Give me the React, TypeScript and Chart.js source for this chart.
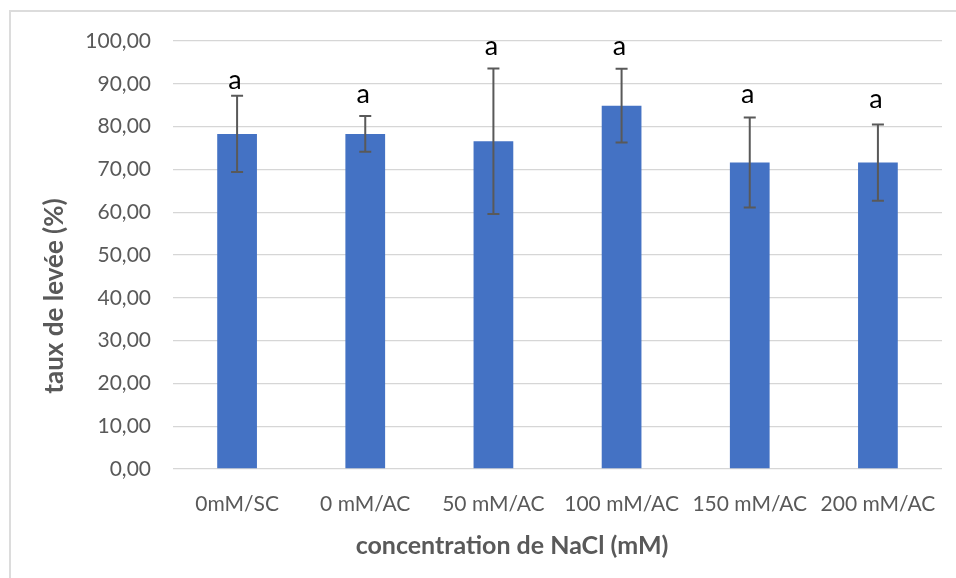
import { useEffect, useRef } from "react";
import { Chart, registerables } from "chart.js";

Chart.register(...registerables);

const categories = ["0mM/SC", "0 mM/AC", "50 mM/AC", "100 mM/AC", "150 mM/AC", "200 mM/AC"];
const means = [78.3, 78.3, 76.6, 84.9, 71.6, 71.6];
const errors = [8.9, 4.2, 17.0, 8.6, 10.5, 8.9];
const groupLetters = ["a", "a", "a", "a", "a", "a"];
const letterValues = [88.9, 85.5, 96.7, 96.7, 85.6, 84.4];
const yTickValues = [0, 10, 20, 30, 40, 50, 60, 70, 80, 90, 100];
const xTitle = "concentration de NaCl (mM)";
const yTitle = "taux de levée (%)";

const FONT = "Lato, 'Open Sans', sans-serif";

const overlayPlugin = {
  id: "overlay",
  afterDatasetsDraw(chart: any) {
    const ctx = chart.ctx as CanvasRenderingContext2D;
    const meta = chart.getDatasetMeta(0);
    const y = chart.scales.y;
    ctx.save();
    // error bars
    ctx.strokeStyle = "#595959";
    ctx.lineWidth = 2;
    meta.data.forEach((bar: any, i: number) => {
      const x = bar.x;
      const top = y.getPixelForValue(means[i] + errors[i]);
      const bot = y.getPixelForValue(means[i] - errors[i]);
      ctx.beginPath();
      ctx.moveTo(x, top);
      ctx.lineTo(x, bot);
      ctx.moveTo(x - 6, top);
      ctx.lineTo(x + 6, top);
      ctx.moveTo(x - 6, bot);
      ctx.lineTo(x + 6, bot);
      ctx.stroke();
    });
    // group letters
    ctx.fillStyle = "#000000";
    ctx.font = `27px ${FONT}`;
    ctx.textAlign = "center";
    ctx.textBaseline = "alphabetic";
    meta.data.forEach((bar: any, i: number) => {
      ctx.fillText(groupLetters[i], bar.x - 2, y.getPixelForValue(letterValues[i]));
    });
    // axis titles
    ctx.fillStyle = "#595959";
    ctx.textBaseline = "middle";
    ctx.font = `bold 25px ${FONT}`;
    ctx.fillText(xTitle, 512, 546);
    ctx.font = `bold 26px ${FONT}`;
    ctx.translate(55, 296);
    ctx.rotate(-Math.PI / 2);
    ctx.fillText(yTitle, 0, 0);
    ctx.restore();
  },
};

export default function App() {
  const ref = useRef<HTMLCanvasElement | null>(null);
  useEffect(() => {
    if (!ref.current) return;
    const chart = new Chart(ref.current, {
      type: "bar",
      data: {
        labels: categories,
        datasets: [
          {
            data: means,
            backgroundColor: "#4472C4",
            borderWidth: 0,
            barPercentage: 0.31,
            categoryPercentage: 1,
          },
        ],
      },
      options: {
        responsive: false,
        animation: false,
        layout: { padding: { left: 0, right: 14, top: 41, bottom: 0 } },
        plugins: { legend: { display: false }, tooltip: { enabled: false } },
        scales: {
          x: {
            grid: { display: false },
            border: { display: false },
            ticks: {
              color: "#595959",
              font: { family: FONT, size: 21 },
              padding: 15,
              maxRotation: 0,
              autoSkip: false,
            },
            afterFit(scale: any) {
              scale.height = 109;
            },
          },
          y: {
            min: 0,
            max: 100,
            grid: { color: "#d6d6d6", lineWidth: 1.3, drawTicks: false },
            border: { display: false },
            afterBuildTicks(scale: any) {
              scale.ticks = yTickValues.map((v) => ({ value: v }));
            },
            ticks: {
              color: "#595959",
              font: { family: FONT, size: 21 },
              padding: 22,
              callback: (v: any) => Number(v).toFixed(2).replace(".", ","),
            },
            afterFit(scale: any) {
              scale.width = 173;
            },
          },
        },
      },
      plugins: [overlayPlugin],
    });
    return () => chart.destroy();
  }, []);
  return (
    <div style={{ position: "fixed", left: 0, top: 0, width: 956, height: 578, background: "#fff" }}>
      <div
        style={{
          position: "absolute",
          left: 9,
          top: 10,
          right: 0,
          bottom: 0,
          borderLeft: "2px solid #dcdcdc",
          borderTop: "2px solid #dcdcdc",
        }}
      />
      <canvas ref={ref} width={956} height={578} style={{ position: "absolute", left: 0, top: 0 }} />
    </div>
  );
}
